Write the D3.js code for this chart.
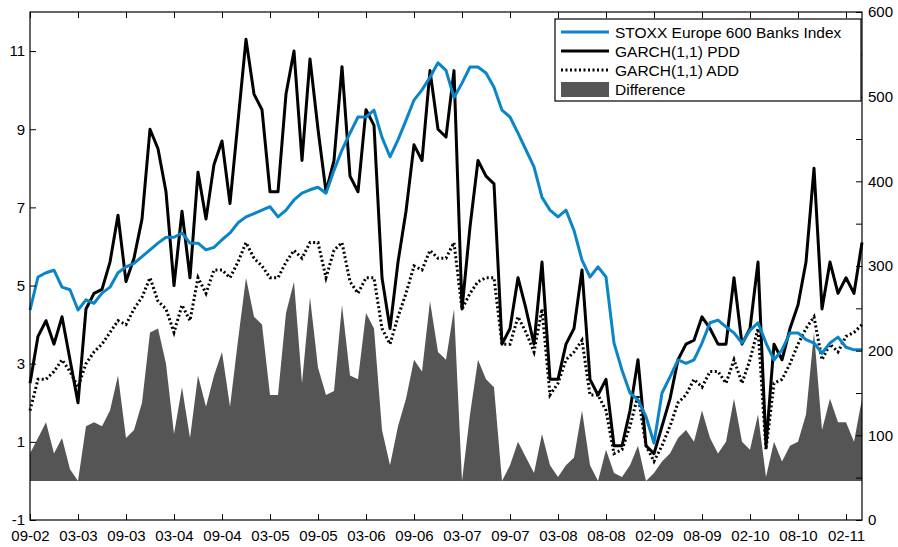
<!DOCTYPE html>
<html><head><meta charset="utf-8">
<script src="https://cdn.jsdelivr.net/npm/d3@7"></script>
<style>body{margin:0;background:#fff}text{font-family:"Liberation Sans",Arial,sans-serif}</style>
</head><body><div id="chart"></div>
<script>
// tick labels, one every 6 points
const tickLabels = ["09-02","03-03","09-03","03-04","09-04","03-05","09-05","03-06","09-06","03-07","09-07","03-08","08-08","02-09","08-09","02-10","08-10","02-11"];

// GARCH(1,1) PDD (left axis)
const pdd = [2.5,3.7,4.1,3.5,4.2,3.1,2.0,4.4,4.8,4.9,
  5.6,6.8,5.1,5.7,6.7,9.0,8.5,7.4,5.0,6.9,
  5.2,7.9,6.7,8.1,8.7,7.1,9.2,11.3,9.9,9.5,
  7.4,7.4,9.9,11.0,8.2,10.8,9.0,7.4,8.2,10.6,
  7.8,7.4,9.5,9.1,5.2,3.9,5.6,6.9,8.6,8.2,
  10.5,9.0,8.8,10.5,4.4,6.5,8.2,7.8,7.6,3.5,
  3.9,5.2,4.4,3.5,5.6,2.6,2.6,3.5,3.9,5.4,
  2.6,2.2,2.6,0.9,0.9,1.8,3.1,0.9,0.7,1.4,
  2.1,3.1,3.5,3.6,4.2,3.9,3.5,3.5,5.2,3.5,
  3.9,5.6,0.9,3.5,3.1,3.9,4.5,5.6,8.0,4.4,
  5.6,4.8,5.2,4.8,6.1];

// GARCH(1,1) ADD (left axis)
const add = [1.8,2.6,2.6,2.8,3.1,2.8,2.4,3.0,3.3,3.5,
  3.8,4.1,4.0,4.4,4.7,5.2,4.6,4.4,3.8,4.5,
  4.1,5.2,4.8,5.4,5.4,5.2,5.6,6.1,5.7,5.5,
  5.2,5.2,5.6,5.9,5.7,6.1,6.1,5.2,5.9,6.1,
  5.1,4.8,5.2,5.2,3.9,3.5,4.2,4.8,5.5,5.4,
  5.9,5.7,5.7,6.1,4.4,4.8,5.1,5.2,5.2,3.5,
  3.5,4.2,3.8,3.3,4.4,2.2,2.5,3.1,3.3,3.6,
  2.2,2.2,1.8,0.7,0.8,1.4,2.2,0.9,0.5,0.9,
  1.4,2.0,2.2,2.6,2.4,2.8,2.8,2.5,3.1,2.5,
  3.1,3.9,0.8,2.5,2.6,3.0,3.5,3.9,4.2,3.1,
  3.5,3.3,3.7,3.8,4.0];

// STOXX Europe 600 Banks Index (right axis)
const stoxx = [248,287,292,295,275,272,248,260,256,268,
  275,292,299,303,311,319,327,334,334,339,
  327,327,319,322,331,339,351,358,362,366,
  370,358,366,378,386,390,393,386,413,437,
  457,476,476,484,452,429,449,472,496,508,
  523,540,531,499,516,535,535,528,511,484,
  476,457,437,417,381,366,358,366,342,307,
  287,299,287,209,177,150,142,122,91,150,
  169,189,185,189,209,233,236,228,221,209,
  224,233,209,189,201,221,221,213,209,197,
  209,216,204,201,201];

const diff = pdd.map((v, i) => Math.max(0, v - add[i]));

const width = 898, height = 547;
const m = {left: 30, right: 862, top: 12, bottom: 520};

const svg = d3.select("#chart").append("svg")
  .attr("width", width).attr("height", height);

const x = d3.scaleLinear().domain([0, pdd.length - 1]).range([m.left, m.right]);
const yL = d3.scaleLinear().domain([-1, 12]).range([m.bottom, m.top]);
const yR = d3.scaleLinear().domain([0, 600]).range([m.bottom, m.top]);

// difference area
svg.append("path")
  .attr("d", d3.area().x((d, i) => x(i)).y0(yL(0)).y1(d => yL(d))(diff))
  .attr("fill", "#555");

const lineL = d3.line().x((d, i) => x(i)).y(d => yL(d));
svg.append("path").attr("d", lineL(add)).attr("fill", "none")
  .attr("stroke", "#000").attr("stroke-width", 3).attr("stroke-dasharray", "2,2.5");
svg.append("path").attr("d", lineL(pdd)).attr("fill", "none")
  .attr("stroke", "#000").attr("stroke-width", 3).attr("stroke-linejoin", "round");
svg.append("path")
  .attr("d", d3.line().x((d, i) => x(i)).y(d => yR(d))(stoxx))
  .attr("fill", "none").attr("stroke", "#0a85c8").attr("stroke-width", 3).attr("stroke-linejoin", "round");

// frame
svg.append("rect").attr("x", m.left).attr("y", m.top)
  .attr("width", m.right - m.left).attr("height", m.bottom - m.top)
  .attr("fill", "none").attr("stroke", "#000").attr("stroke-width", 1.2);

// axes
const tickIdx = tickLabels.map((d, i) => i * 6);
svg.append("g").attr("transform", `translate(0,${m.bottom})`)
  .call(d3.axisBottom(x).tickValues(tickIdx).tickFormat((d, i) => tickLabels[i]).tickSizeInner(-6).tickSizeOuter(0).tickPadding(10));
svg.append("g").attr("transform", `translate(0,${m.top})`)
  .call(d3.axisTop(x).tickValues(tickIdx).tickFormat("").tickSizeInner(-6).tickSizeOuter(0));
svg.append("g").attr("transform", `translate(${m.left},0)`)
  .call(d3.axisLeft(yL).tickValues([-1,1,3,5,7,9,11]).tickFormat(d => String(d)).tickSizeInner(-6).tickSizeOuter(0).tickPadding(5));
svg.append("g").attr("transform", `translate(${m.right},0)`)
  .call(d3.axisRight(yR).tickValues(d3.range(0, 601, 50)).tickFormat(d => d % 100 ? "" : d).tickSizeInner(-6).tickSizeOuter(0).tickPadding(6));
svg.selectAll(".domain").remove();
svg.selectAll(".tick text").attr("font-size", 15).attr("fill", "#000");
svg.selectAll(".tick line").attr("stroke", "#000");

// legend
const legItems = [
  {name: "STOXX Europe 600 Banks Index", type: "blue"},
  {name: "GARCH(1,1) PDD", type: "solid"},
  {name: "GARCH(1,1) ADD", type: "dot"},
  {name: "Difference", type: "area"}];
const lg = svg.append("g");
lg.append("rect").attr("x", 555).attr("y", 19).attr("width", 306).attr("height", 82)
  .attr("fill", "#fff").attr("stroke", "#000").attr("stroke-width", 1.2);
legItems.forEach((d, i) => {
  const yy = 32 + i * 19;
  if (d.type === "area") {
    lg.append("rect").attr("x", 561).attr("y", yy - 7).attr("width", 48).attr("height", 15).attr("fill", "#555");
  } else {
    lg.append("line").attr("x1", 561).attr("x2", 609).attr("y1", yy).attr("y2", yy)
      .attr("stroke", d.type === "blue" ? "#0a85c8" : "#000").attr("stroke-width", 3)
      .attr("stroke-dasharray", d.type === "dot" ? "2,2.5" : null);
  }
  lg.append("text").attr("x", 615).attr("y", yy + 5.5).attr("font-size", 15.5).text(d.name);
});
</script></body></html>
